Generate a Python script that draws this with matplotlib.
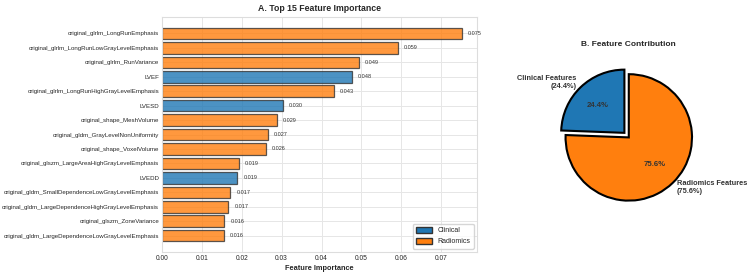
import numpy as np
import matplotlib
matplotlib.use("Agg")
import matplotlib.pyplot as plt
from matplotlib.patches import Patch

plt.style.use("seaborn-v0_8-whitegrid")
plt.rcParams["font.family"] = ["Liberation Sans", "DejaVu Sans"]

# top 15 features (top to bottom)
features = [
    "original_glrlm_LongRunEmphasis",
    "original_glrlm_LongRunLowGrayLevelEmphasis",
    "original_glrlm_RunVariance",
    "LVEF",
    "original_glrlm_LongRunHighGrayLevelEmphasis",
    "LVESD",
    "original_shape_MeshVolume",
    "original_gldm_GrayLevelNonUniformity",
    "original_shape_VoxelVolume",
    "original_glszm_LargeAreaHighGrayLevelEmphasis",
    "LVEDD",
    "original_gldm_SmallDependenceLowGrayLevelEmphasis",
    "original_gldm_LargeDependenceHighGrayLevelEmphasis",
    "original_glszm_ZoneVariance",
    "original_gldm_LargeDependenceLowGrayLevelEmphasis",
]
importance = [0.0752, 0.0592, 0.0494, 0.0476, 0.0431, 0.0304, 0.0288, 0.0266,
              0.0261, 0.0194, 0.0189, 0.0172, 0.0167, 0.0157, 0.0156]
clinical = ["LVEF", "LVESD", "LVEDD"]

pie_labels = ["Clinical Features", "Radiomics Features"]
pie_values = [24.4, 75.6]

c_blue = "#1f77b4"
c_orange = "#ff7f0e"

fig = plt.figure(figsize=(7.49, 2.74), dpi=100)

# A. bar chart
ax1 = fig.add_axes([0.216, 0.080, 0.421, 0.858])
y = np.arange(len(features))
colors = [c_blue if f in clinical else c_orange for f in features]
ax1.barh(y, importance, height=0.8, color=colors, alpha=0.8,
         edgecolor="#333333", linewidth=0.9)
ax1.set_yticks(y)
ax1.set_yticklabels(features, fontsize=4.4, color="#262626")
ax1.invert_yaxis()
ax1.set_xlim(0, max(importance) * 1.05)
ax1.tick_params(axis="x", labelsize=4.8, pad=2)
ax1.tick_params(axis="y", pad=2)
for yi, v in zip(y, importance):
    ax1.text(v + 0.0015, yi, f"{v:.3f}", va="center", ha="left", fontsize=4,
             color="#333333")
ax1.set_xlabel("Feature Importance", fontsize=5.3, fontweight="bold", labelpad=2)
ax1.set_title("A. Top 15 Feature Importance", fontsize=6.3, fontweight="bold", pad=4)
for s in ax1.spines.values():
    s.set_color("#dddddd")
    s.set_linewidth(0.8)
ax1.grid(color="#e6e6e6", linewidth=0.7)
handles = [Patch(facecolor=c_blue, edgecolor="#333333", label="Clinical"),
           Patch(facecolor=c_orange, edgecolor="#333333", label="Radiomics")]
ax1.legend(handles=handles, loc="lower right", fontsize=5, frameon=True,
           handlelength=2.2, handleheight=0.9, borderpad=0.5)

# B. pie chart
ax2 = fig.add_axes([0.734, 0.21, 0.211, 0.577])
labels = [f"{l}\n({v:.1f}%)" for l, v in zip(pie_labels, pie_values)]
wedges, texts, autotexts = ax2.pie(
    pie_values, labels=labels, colors=[c_blue, c_orange], explode=(0.1, 0),
    startangle=90, autopct="%1.1f%%",
    wedgeprops=dict(edgecolor="black", linewidth=1.5),
    textprops=dict(fontsize=5.3, fontweight="bold", color="#333333"))
for t in autotexts:
    t.set_fontsize(5.6)
ax2.set_title("B. Feature Contribution", fontsize=6, fontweight="bold", pad=9)

fig.savefig("out.png", dpi=100)
